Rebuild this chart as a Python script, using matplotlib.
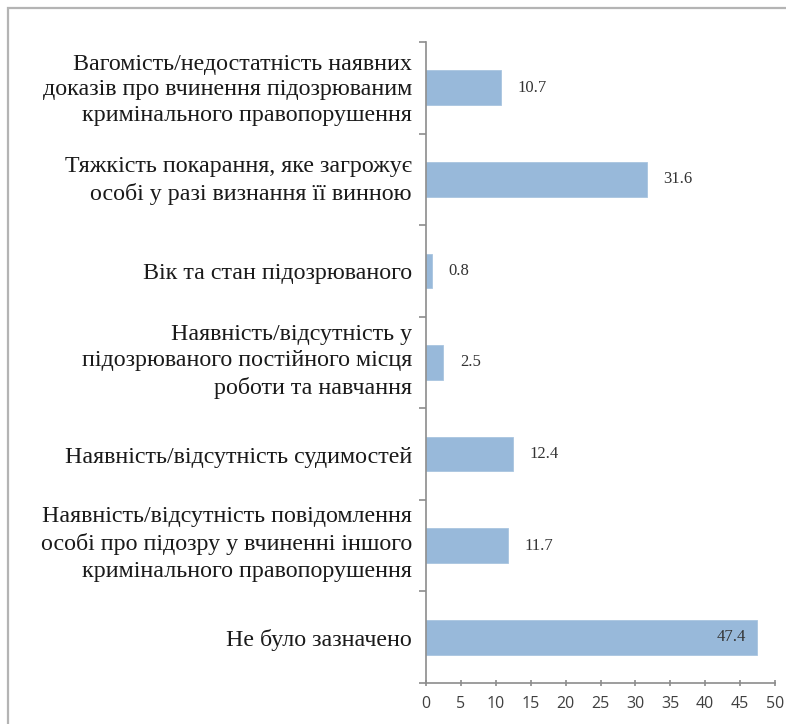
import matplotlib
matplotlib.use("Agg")
import matplotlib.pyplot as plt
from matplotlib.patches import Rectangle
from matplotlib.ticker import FixedLocator

categories = [
    "Вагомість/недостатність наявних\nдоказів про вчинення підозрюваним\nкримінального правопорушення",
    "Тяжкість покарання, яке загрожує\nособі у разі визнання її винною",
    "Вік та стан підозрюваного",
    "Наявність/відсутність у\nпідозрюваного постійного місця\nроботи та навчання",
    "Наявність/відсутність судимостей",
    "Наявність/відсутність повідомлення\nособі про підозру у вчиненні іншого\nкримінального правопорушення",
    "Не було зазначено",
]
values = [10.7, 31.6, 0.8, 2.5, 12.4, 11.7, 47.4]
value_labels = ["10.7", "31.6", "0.8", "2.5", "12.4", "11.7", "47.4"]
x_ticks = [0, 5, 10, 15, 20, 25, 30, 35, 40, 45, 50]

W, H = 786, 724
fig = plt.figure(figsize=(W / 100, H / 100), dpi=100)
fig.patch.set_facecolor("white")

# outer border (frame of the chart area)
fig.add_artist(Rectangle((8 / W, -0.05), 1.2, 1 - 8 / H + 0.05,
                         transform=fig.transFigure, fill=False,
                         edgecolor="#b4b4b4", linewidth=1.6))

ax = fig.add_axes([426 / W, 1 - 683 / H, (775 - 426) / W, (683 - 42) / H])
pos = list(range(len(categories)))
ax.barh(pos, values, height=0.38, color="#98b9da", edgecolor="#a9c5e0", linewidth=0.6)

ax.set_xlim(0, 50)
ax.set_ylim(len(categories) - 0.5, -0.5)

for sp in ["top", "right"]:
    ax.spines[sp].set_visible(False)
for sp in ["left", "bottom"]:
    ax.spines[sp].set_color("#8c8c8c")
    ax.spines[sp].set_linewidth(1.2)

# category labels drawn as texts next to the axis (per-label spacing / nudge)
ax.set_yticks(pos)
ax.set_yticklabels([""] * len(categories))
ax.tick_params(axis="y", which="major", length=0)
line_spacings = [1.28, 1.36, 1.3, 1.36, 1.3, 1.36, 1.3]
nudges_px = [-2, -1, -3, 1, -3, 2, -3]
for i, (lab, ls, dy) in enumerate(zip(categories, line_spacings, nudges_px)):
    ax.annotate(lab, (0, i), xycoords="data", xytext=(-14, dy),
                textcoords="offset pixels", ha="right", va="center",
                multialignment="right", linespacing=ls,
                fontfamily="Liberation Serif", fontsize=17.3, color="#1a1a1a",
                annotation_clip=False)

ax.yaxis.set_minor_locator(FixedLocator([i - 0.5 for i in range(len(categories) + 1)]))
ax.tick_params(axis="y", which="minor", length=5, color="#8c8c8c", width=1.2, direction="out")

ax.set_xticks(x_ticks)
ax.set_xticklabels([str(t) for t in x_ticks], fontfamily="Open Sans", fontsize=11.5, color="#404040")
ax.tick_params(axis="x", length=4, color="#8c8c8c", width=1.2, direction="inout", pad=7)

for i, (v, lab) in enumerate(zip(values, value_labels)):
    if v > 45:
        ax.annotate(lab, (v, i), xytext=(-8, 0), textcoords="offset points",
                    ha="right", va="center", fontfamily="Liberation Serif",
                    fontsize=12, color="#333333")
    else:
        ax.annotate(lab, (v, i), xytext=(12, 0), textcoords="offset points",
                    ha="left", va="center", fontfamily="Liberation Serif",
                    fontsize=12, color="#333333")

fig.savefig("out.png", dpi=100)
